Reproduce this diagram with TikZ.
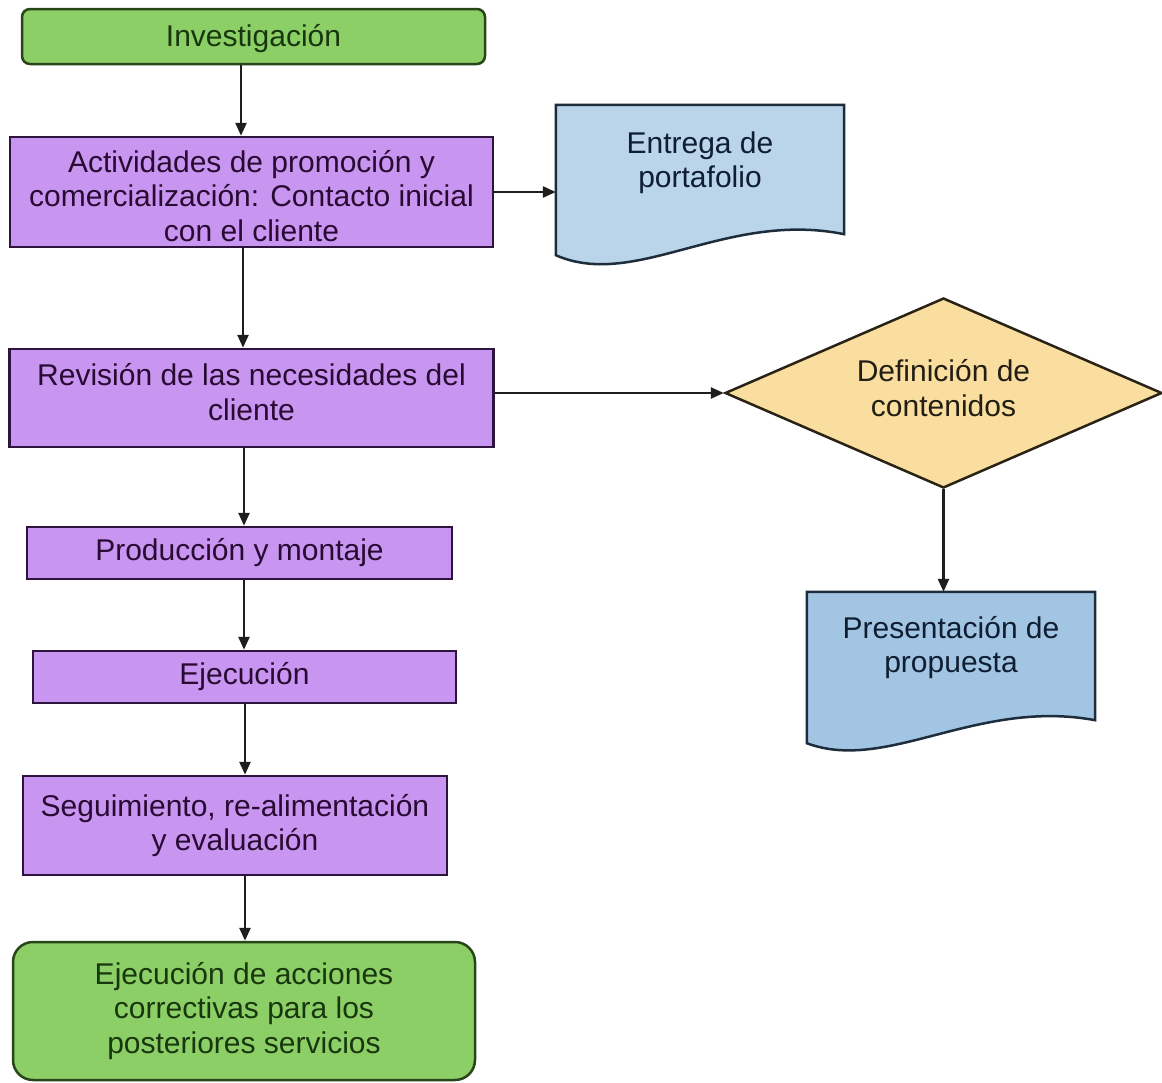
\documentclass[tikz,border=0pt]{standalone}
\usepackage{fontspec}
\setmainfont{Liberation Sans}
\usetikzlibrary{shapes.geometric,arrows.meta,calc}
\definecolor{gfill}{RGB}{140,207,102}
\definecolor{gline}{RGB}{40,70,25}
\definecolor{gtext}{RGB}{25,55,15}
\definecolor{pfill}{RGB}{200,150,240}
\definecolor{pline}{RGB}{45,20,60}
\definecolor{ptext}{RGB}{40,10,50}
\definecolor{bfillA}{RGB}{186,212,234}
\definecolor{bfillB}{RGB}{162,197,227}
\definecolor{bline}{RGB}{30,45,60}
\definecolor{btext}{RGB}{15,30,50}
\definecolor{dfill}{RGB}{250,222,160}
\definecolor{dline}{RGB}{40,35,20}
\definecolor{dtext}{RGB}{35,30,20}
\definecolor{aline}{RGB}{30,30,30}
\begin{document}
\begin{tikzpicture}[x=1pt,y=1pt,
  txt/.style={align=center, inner sep=0pt, font=\fontsize{30}{34.5}\selectfont},
  greenbox/.style={txt, draw=gline, line width=2.5pt, fill=gfill, text=gtext, rounded corners=#1},
  greenbox/.default=8pt,
  purplebox/.style={txt, draw=pline, line width=2.5pt, fill=pfill, text=ptext},
  docframe/.style={draw=none, fill=none, inner sep=0pt, minimum width=288pt},
  docshape/.style={draw=bline, line width=2.5pt},
  doctext/.style={txt, text=btext},
  decision/.style={txt, diamond, aspect=2.3, draw=dline, line width=2.5pt, fill=dfill, text=dtext},
  conn/.style={draw=aline, line width=2.5pt, -{Triangle[length=13pt,width=11pt]}}
]
\fill[white] (0,0) rectangle (1162,-1082);
\useasboundingbox (0,0) rectangle (1162,-1082);

% left column
\node[greenbox=8pt, minimum width=463pt, minimum height=55pt] (inv) at (253.5,-36.5) {\raisebox{-2pt}[\height][\depth]{Investigación}};
\node[purplebox, minimum width=483pt, minimum height=110pt] (act) at (251.5,-192) {\raisebox{-4pt}[\height][\depth]{\parbox{480pt}{\centering Actividades de promoción y\\comercialización: Contacto inicial\\con el cliente}}};
\node[purplebox, minimum width=484pt, minimum height=98pt] (rev) at (251.5,-398) {\raisebox{6pt}[\height][\depth]{\parbox{480pt}{\centering Revisión de las necesidades del\\cliente}}};
\node[purplebox, minimum width=425pt, minimum height=52pt] (prod) at (239.5,-553) {Producción y montaje};
\node[purplebox, minimum width=423pt, minimum height=52pt] (ejec) at (244.5,-677) {Ejecución};
\node[purplebox, minimum width=424pt, minimum height=99pt] (seg) at (235,-825.5) {Seguimiento, re-alimentación\\y evaluación};
\node[greenbox=20pt, minimum width=462pt, minimum height=138pt] (fin) at (244,-1011) {Ejecución de acciones\\correctivas para los\\posteriores servicios};

% document: Entrega de portafolio
\node[docframe, minimum height=150pt] (ent) at (700,-180) {};
\draw[docshape, fill=bfillA] (ent.north west) -- (ent.north east) -- ($(ent.south east)+(0,21)$)
  .. controls ($(ent.south west)+(170,45)$) and ($(ent.south west)+(80,-35)$) .. (ent.south west) -- cycle;
\node[doctext] (entT) at ($(ent.north)+(0,-58)$) {Entrega de\\portafolio};

% decision
\node[decision, minimum width=437pt, minimum height=190pt] (def) at (943.5,-393) {\raisebox{5pt}[\height][\depth]{\parbox{200pt}{\centering Definición de\\contenidos}}};

% document: Presentación de propuesta
\node[docframe, minimum height=151pt] (pres) at (951,-667.5) {};
\draw[docshape, fill=bfillB] (pres.north west) -- (pres.north east) -- ($(pres.south east)+(0,23)$)
  .. controls ($(pres.south west)+(170,45)$) and ($(pres.south west)+(80,-30)$) .. (pres.south west) -- cycle;
\node[doctext] (presT) at ($(pres.north)+(0,-56)$) {Presentación de\\propuesta};

% connectors
\coordinate (cA) at (241,0);
\coordinate (cB) at (243,0);
\coordinate (cC) at (244,0);
\coordinate (cD) at (245,0);
\draw[conn] (inv.south -| cA) -- (act.north -| cA);
\draw[conn] (act.south -| cB) -- (rev.north -| cB);
\draw[conn] (rev.south -| cC) -- (prod.north -| cC);
\draw[conn] (prod.south -| cC) -- (ejec.north -| cC);
\draw[conn] (ejec.south -| cD) -- (seg.north -| cD);
\draw[conn] (seg.south -| cD) -- (fin.north -| cD);
\draw[conn] (act.east) -- (act.east -| ent.west);
\draw[conn] (rev.east |- def.west) -- (def.west);
\draw[conn] (def.south) -- (def.south |- pres.north);
\end{tikzpicture}
\end{document}
